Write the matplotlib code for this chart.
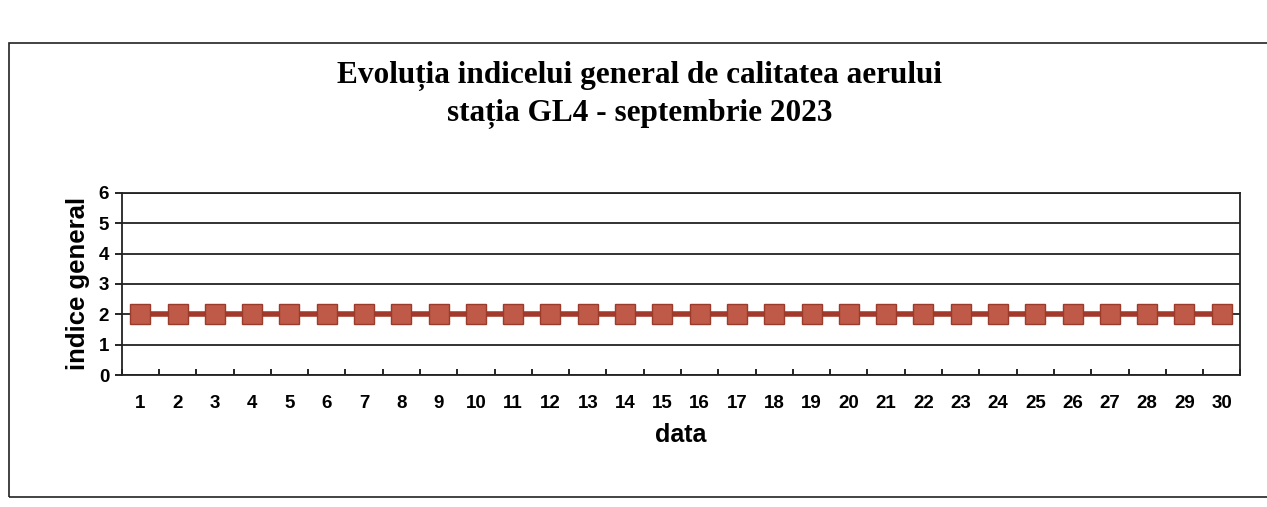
import matplotlib.pyplot as plt
from matplotlib.patches import Rectangle
import numpy as np

days = list(range(1, 31))
values = [2] * 30
yticks = [0, 1, 2, 3, 4, 5, 6]

fig = plt.figure(figsize=(12.67, 5.07), dpi=100)
fig.patch.set_facecolor('white')

# outer chart frame
fig.patches.append(Rectangle((0.007, 0.02), 1.2, 0.895, transform=fig.transFigure,
                             fill=False, edgecolor='#222222', linewidth=1.2))

ax = fig.add_axes([0.096, 0.26, 0.883, 0.36])
ax.plot(days, values, color='#A3392A', linewidth=4, marker='s', markersize=14,
        markerfacecolor='#C05A48', markeredgecolor='#9A3B2C', markeredgewidth=1, zorder=3)

ax.set_xlim(0.5, 30.5)
ax.set_ylim(0, 6)
ax.set_yticks(yticks)
ax.grid(axis='y', color='#222222', linewidth=1.3)
ax.set_axisbelow(True)
ax.set_xticks(days)
ax.set_xticks(np.arange(0.5, 31, 1), minor=True)
ax.tick_params(axis='x', which='major', length=0, pad=14)
ax.tick_params(axis='x', which='minor', length=4, direction='in', width=1.2)
ax.tick_params(axis='y', length=5, direction='out', width=1.2, pad=4)
for s in ax.spines.values():
    s.set_color('#222222')
    s.set_linewidth(1.3)

for lbl in ax.get_xticklabels() + ax.get_yticklabels():
    lbl.set_fontfamily('Liberation Sans')
    lbl.set_fontweight('bold')
    lbl.set_fontsize(13.5)

ax.set_xlabel('data', fontfamily='Liberation Sans', fontweight='bold', fontsize=18, labelpad=8)
ax.set_ylabel('indice general', fontfamily='Liberation Sans', fontweight='bold', fontsize=18.5, labelpad=6)

fig.text(0.505, 0.851, 'Evoluția indicelui general de calitatea aerului',
         ha='center', va='center', fontfamily='Liberation Serif', fontweight='bold', fontsize=22.5)
fig.text(0.505, 0.776, 'stația GL4 - septembrie 2023',
         ha='center', va='center', fontfamily='Liberation Serif', fontweight='bold', fontsize=22.5)

fig.savefig('out.png', dpi=100)
